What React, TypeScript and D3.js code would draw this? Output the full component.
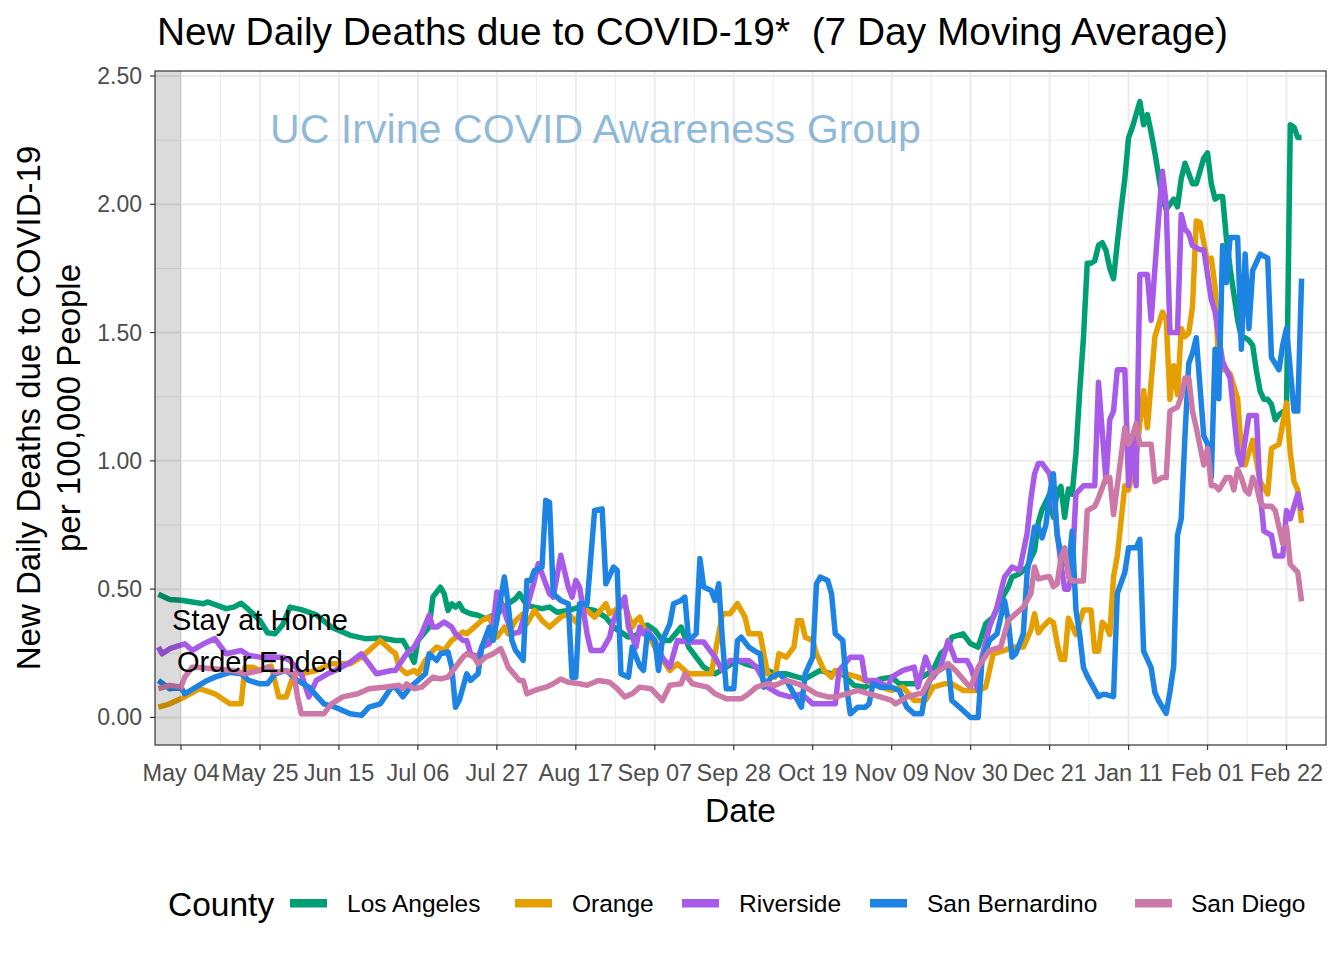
import React from "react";
import * as d3 from "d3";

// ---------- DATA (day offset from 2020-05-04, deaths per 100k, 7-day avg) ----------
const BASE_DATE = Date.UTC(2020, 4, 4);

const counties = ["Los Angeles", "Orange", "Riverside", "San Bernardino", "San Diego"];

const laData: [number, number][] = [[-6,0.48],[-3,0.46],[0,0.457],[3,0.45],[6,0.443],[7,0.45],[10,0.435],[12,0.424],[14,0.43],[16,0.445],[18,0.42],[21,0.378],[23,0.33],[25,0.326],[27,0.36],[29,0.43],[32,0.42],[36,0.40],[40,0.352],[45,0.32],[49,0.307],[53,0.31],[57,0.30],[59,0.30],[60,0.275],[62,0.215],[63,0.30],[66,0.352],[67,0.47],[69,0.508],[70,0.482],[71,0.417],[72,0.443],[73,0.43],[74,0.443],[75,0.417],[77,0.404],[79,0.398],[81,0.385],[84,0.404],[87,0.443],[89,0.463],[90,0.482],[92,0.437],[94,0.43],[96,0.424],[98,0.43],[100,0.41],[103,0.417],[106,0.43],[110,0.417],[113,0.39],[115,0.352],[119,0.313],[121,0.32],[124,0.36],[126,0.34],[128,0.30],[130,0.30],[133,0.352],[135,0.274],[137,0.235],[139,0.196],[142,0.17],[145,0.196],[148,0.222],[150,0.209],[153,0.196],[156,0.183],[158,0.17],[161,0.17],[164,0.157],[166,0.15],[170,0.183],[173,0.17],[175,0.183],[179,0.125],[182,0.118],[186,0.15],[189,0.157],[191,0.131],[195,0.131],[197,0.157],[200,0.183],[202,0.248],[204,0.274],[205,0.313],[208,0.326],[210,0.287],[212,0.274],[214,0.365],[216,0.391],[218,0.456],[220,0.508],[221,0.547],[223,0.56],[225,0.586],[226,0.62],[227,0.65],[228,0.76],[229,0.81],[230,0.84],[231,0.87],[232,0.78],[233,0.88],[234,0.90],[235,0.78],[236,0.89],[237,0.87],[238,1.03],[239,1.27],[240,1.48],[241,1.77],[242,1.77],[243,1.78],[244,1.84],[245,1.85],[246,1.82],[247,1.75],[248,1.71],[249,1.85],[250,1.98],[251,2.1],[252,2.26],[253,2.3],[254,2.35],[255,2.40],[256,2.31],[257,2.35],[258,2.28],[259,2.2],[260,2.11],[261,2.02],[262,1.98],[263,2.0],[264,2.02],[265,1.99],[266,2.1],[267,2.16],[268,2.12],[269,2.08],[270,2.08],[271,2.13],[272,2.18],[273,2.2],[274,2.08],[275,2.02],[276,2.03],[277,2.03],[278,1.87],[279,1.75],[280,1.65],[281,1.55],[282,1.48],[283,1.48],[284,1.47],[285,1.45],[286,1.35],[287,1.27],[288,1.24],[289,1.24],[290,1.22],[291,1.16],[292,1.18],[293,1.19],[294,1.2],[295,2.31],[296,2.3],[297,2.26],[298,2.26]];

const orangeData: [number, number][] = [[-6,0.04],[-3,0.053],[1,0.08],[5,0.112],[9,0.092],[13,0.053],[16,0.053],[17,0.196],[19,0.196],[21,0.183],[24,0.2],[26,0.08],[28,0.08],[30,0.17],[32,0.17],[36,0.183],[40,0.209],[45,0.209],[48,0.235],[53,0.30],[56,0.26],[57,0.25],[58,0.196],[59,0.183],[60,0.17],[62,0.183],[63,0.17],[65,0.222],[67,0.261],[68,0.274],[70,0.261],[72,0.30],[75,0.333],[76,0.326],[78,0.352],[80,0.378],[82,0.391],[83,0.352],[84,0.313],[86,0.352],[87,0.326],[89,0.378],[91,0.404],[92,0.365],[94,0.417],[96,0.378],[98,0.352],[99,0.365],[101,0.391],[103,0.404],[105,0.372],[106,0.404],[108,0.417],[110,0.391],[113,0.443],[114,0.404],[118,0.443],[120,0.352],[121,0.378],[122,0.391],[123,0.352],[125,0.30],[127,0.248],[130,0.183],[132,0.209],[134,0.183],[135,0.17],[139,0.17],[141,0.17],[142,0.248],[144,0.404],[146,0.404],[148,0.443],[150,0.391],[151,0.326],[154,0.326],[156,0.17],[158,0.157],[159,0.248],[161,0.235],[163,0.274],[164,0.378],[165,0.378],[166,0.313],[168,0.30],[169,0.248],[171,0.183],[173,0.157],[174,0.183],[177,0.17],[180,0.157],[182,0.144],[186,0.118],[189,0.105],[192,0.118],[195,0.066],[198,0.066],[200,0.118],[203,0.131],[205,0.131],[208,0.105],[212,0.105],[214,0.118],[216,0.248],[219,0.261],[221,0.274],[224,0.274],[226,0.339],[227,0.404],[228,0.33],[229,0.35],[230,0.365],[231,0.38],[232,0.37],[233,0.29],[234,0.226],[235,0.226],[236,0.387],[237,0.355],[238,0.323],[240,0.419],[242,0.419],[243,0.258],[244,0.258],[245,0.371],[246,0.355],[247,0.323],[248,0.548],[249,0.629],[251,0.903],[252,0.887],[254,1.016],[256,1.274],[257,1.129],[259,1.484],[261,1.58],[262,1.55],[263,1.24],[264,1.371],[265,1.258],[266,1.516],[267,1.484],[268,1.5],[269,1.6],[270,1.935],[271,1.93],[272,1.85],[273,1.774],[274,1.79],[275,1.677],[276,1.355],[278,1.355],[279,1.339],[281,1.242],[282,1.032],[283,0.984],[285,1.081],[287,0.919],[289,0.871],[290,1.048],[292,1.065],[294,1.226],[295,1.032],[296,0.919],[297,0.887],[298,0.758]];

const riversideData: [number, number][] = [[-6,0.274],[-5,0.248],[-3,0.268],[1,0.287],[3,0.261],[6,0.287],[9,0.307],[12,0.248],[16,0.261],[18,0.241],[21,0.235],[25,0.235],[27,0.235],[29,0.222],[32,0.17],[34,0.08],[36,0.144],[39,0.17],[41,0.183],[45,0.215],[48,0.248],[52,0.17],[56,0.183],[57,0.183],[60,0.248],[62,0.274],[64,0.326],[66,0.398],[67,0.352],[68,0.352],[70,0.372],[72,0.352],[73,0.326],[75,0.30],[76,0.30],[77,0.248],[79,0.235],[80,0.274],[82,0.287],[83,0.359],[84,0.489],[85,0.456],[88,0.326],[90,0.333],[92,0.43],[94,0.534],[95,0.599],[98,0.482],[99,0.469],[101,0.632],[103,0.508],[104,0.469],[105,0.534],[106,0.508],[108,0.326],[109,0.261],[112,0.261],[114,0.313],[115,0.378],[118,0.469],[119,0.352],[121,0.274],[122,0.352],[123,0.326],[124,0.339],[126,0.30],[128,0.235],[130,0.196],[132,0.30],[135,0.294],[137,0.294],[139,0.294],[140,0.274],[142,0.235],[144,0.183],[146,0.222],[149,0.222],[151,0.222],[153,0.196],[156,0.118],[159,0.092],[162,0.08],[165,0.092],[168,0.053],[172,0.053],[174,0.053],[175,0.183],[178,0.235],[181,0.235],[182,0.144],[185,0.144],[188,0.118],[189,0.157],[192,0.183],[195,0.196],[196,0.118],[198,0.235],[200,0.157],[202,0.196],[204,0.30],[206,0.222],[209,0.222],[210,0.196],[212,0.105],[213,0.235],[215,0.352],[217,0.43],[219,0.547],[221,0.586],[223,0.573],[225,0.716],[226,0.85],[227,0.95],[228,0.99],[229,0.99],[230,0.97],[231,0.95],[232,0.87],[233,0.72],[234,0.6],[235,0.5],[236,0.5],[237,0.58],[238,0.871],[240,0.903],[241,0.903],[243,0.903],[244,1.306],[246,0.919],[247,1.161],[248,1.194],[249,1.355],[251,1.355],[252,0.903],[253,1.097],[254,0.903],[255,1.726],[257,1.726],[258,1.548],[259,1.75],[260,1.95],[261,2.129],[262,2.0],[263,1.5],[264,1.5],[265,1.5],[266,1.96],[267,1.903],[268,1.887],[269,1.839],[271,1.823],[272,1.823],[274,1.629],[275,1.58],[277,1.387],[278,1.355],[279,1.323],[281,1.032],[282,0.984],[284,1.177],[286,1.177],[287,0.871],[288,0.726],[290,0.71],[291,0.629],[293,0.629],[294,0.806],[295,0.774],[297,0.871],[298,0.806]];

const sanBernardinoData: [number, number][] = [[-6,0.144],[-3,0.112],[0,0.118],[1,0.092],[4,0.118],[7,0.144],[9,0.157],[13,0.176],[16,0.17],[18,0.144],[21,0.131],[23,0.131],[25,0.17],[28,0.183],[31,0.144],[34,0.118],[38,0.053],[41,0.04],[45,0.014],[48,0.008],[50,0.04],[53,0.053],[56,0.118],[57,0.118],[59,0.08],[61,0.118],[63,0.144],[65,0.17],[66,0.248],[68,0.222],[69,0.248],[71,0.255],[72,0.196],[73,0.04],[74,0.066],[76,0.17],[77,0.144],[79,0.17],[80,0.274],[82,0.352],[83,0.30],[84,0.378],[86,0.547],[87,0.443],[88,0.30],[89,0.261],[91,0.222],[92,0.534],[93,0.534],[94,0.573],[96,0.586],[97,0.846],[98,0.839],[99,0.482],[101,0.456],[103,0.443],[104,0.157],[105,0.157],[106,0.443],[108,0.443],[110,0.807],[112,0.813],[113,0.521],[115,0.586],[116,0.573],[117,0.17],[119,0.157],[120,0.274],[122,0.2],[123,0.183],[124,0.326],[126,0.30],[127,0.183],[128,0.30],[130,0.365],[131,0.443],[133,0.456],[134,0.469],[135,0.30],[137,0.326],[138,0.619],[139,0.508],[141,0.495],[142,0.456],[143,0.521],[144,0.30],[145,0.112],[147,0.112],[148,0.30],[149,0.313],[151,0.274],[153,0.255],[154,0.248],[155,0.118],[157,0.157],[159,0.17],[161,0.144],[163,0.092],[165,0.04],[166,0.17],[168,0.235],[169,0.521],[170,0.547],[172,0.534],[173,0.482],[174,0.326],[176,0.30],[177,0.118],[178,0.014],[180,0.04],[182,0.04],[183,0.053],[184,0.131],[186,0.118],[189,0.118],[191,0.105],[193,0.04],[195,0.014],[197,0.014],[198,0.105],[200,0.17],[203,0.196],[204,0.209],[205,0.066],[208,0.027],[210,0.0],[212,0.0],[213,0.222],[215,0.30],[217,0.326],[219,0.456],[220,0.378],[221,0.235],[222,0.248],[224,0.326],[225,0.56],[227,0.742],[228,0.742],[229,0.70],[230,0.75],[231,0.87],[232,0.95],[233,0.71],[234,0.64],[236,0.58],[237,0.726],[238,0.419],[239,0.323],[240,0.194],[241,0.161],[244,0.081],[245,0.089],[246,0.089],[248,0.081],[249,0.484],[251,0.565],[252,0.661],[254,0.661],[255,0.694],[256,0.258],[258,0.194],[259,0.097],[260,0.065],[262,0.016],[263,0.1],[264,0.2],[265,0.71],[266,0.774],[267,1.1],[268,1.38],[269,1.42],[270,1.48],[272,1.097],[273,1.065],[274,0.935],[275,1.435],[276,1.242],[277,1.839],[278,1.694],[279,1.871],[281,1.871],[282,1.435],[283,1.806],[284,1.516],[285,1.742],[287,1.806],[289,1.79],[290,1.403],[292,1.355],[293,1.452],[294,1.516],[296,1.194],[297,1.194],[298,1.71]];

const sanDiegoData: [number, number][] = [[-6,0.112],[-3,0.125],[0,0.118],[1,0.157],[3,0.196],[4,0.196],[9,0.189],[14,0.183],[17,0.17],[21,0.183],[23,0.196],[25,0.176],[28,0.183],[30,0.17],[31,0.08],[32,0.014],[35,0.014],[38,0.014],[40,0.053],[43,0.08],[47,0.092],[50,0.112],[54,0.118],[58,0.125],[59,0.112],[60,0.131],[62,0.112],[64,0.118],[66,0.144],[67,0.157],[69,0.15],[71,0.157],[73,0.196],[75,0.235],[76,0.248],[78,0.235],[79,0.209],[81,0.235],[83,0.248],[85,0.268],[86,0.235],[87,0.196],[90,0.144],[91,0.144],[92,0.092],[94,0.105],[97,0.118],[99,0.131],[101,0.15],[103,0.137],[106,0.131],[108,0.125],[111,0.144],[114,0.137],[116,0.112],[118,0.08],[120,0.092],[122,0.118],[125,0.112],[128,0.066],[130,0.125],[133,0.131],[134,0.17],[136,0.131],[140,0.118],[142,0.092],[145,0.073],[149,0.073],[151,0.092],[153,0.118],[156,0.131],[158,0.125],[161,0.144],[164,0.131],[166,0.118],[169,0.092],[172,0.08],[174,0.08],[177,0.092],[180,0.105],[183,0.092],[186,0.08],[189,0.066],[190,0.053],[193,0.079],[196,0.092],[197,0.092],[200,0.17],[203,0.196],[204,0.209],[206,0.183],[209,0.131],[210,0.118],[212,0.196],[215,0.261],[218,0.274],[220,0.378],[224,0.43],[226,0.482],[227,0.586],[228,0.54],[230,0.547],[231,0.548],[232,0.51],[233,0.52],[234,0.62],[235,0.661],[236,0.548],[237,0.532],[240,0.532],[241,0.806],[243,0.823],[244,0.855],[246,0.935],[247,0.935],[248,0.79],[251,1.129],[252,1.065],[253,1.097],[254,1.145],[255,1.065],[256,1.065],[258,1.065],[259,0.919],[261,0.935],[262,0.935],[263,1.194],[265,1.21],[266,1.25],[267,1.323],[268,1.323],[269,1.194],[270,1.129],[272,0.984],[273,1.048],[274,0.903],[275,0.903],[276,0.887],[278,0.935],[279,0.935],[280,0.887],[281,0.968],[282,0.935],[283,0.887],[284,0.871],[285,0.935],[286,0.903],[287,0.839],[288,0.823],[290,0.823],[291,0.806],[292,0.742],[293,0.677],[294,0.742],[295,0.597],[297,0.565],[298,0.452]];

const seriesData = [laData, orangeData, riversideData, sanBernardinoData, sanDiegoData];
const seriesColors = ["#009E73", "#E69F00", "#A75BE8", "#1E84E4", "#CC79A7"];

const xTickLabels = ["May 04", "May 25", "Jun 15", "Jul 06", "Jul 27", "Aug 17", "Sep 07", "Sep 28", "Oct 19", "Nov 09", "Nov 30", "Dec 21", "Jan 11", "Feb 01", "Feb 22"];
const xTickDays = [0, 21, 42, 63, 84, 105, 126, 147, 168, 189, 210, 231, 252, 273, 294];
const yTicks = [0, 0.5, 1.0, 1.5, 2.0, 2.5];
const yMinor = [0.25, 0.75, 1.25, 1.75, 2.25];

const stayHomeEndDay = 0; // shaded period ends
const annotationDay = 21;
const annotationValue = 0.34;

// ---------- LAYOUT ----------
const W = 1344, H = 960;
const PL = 155, PR = 1326, PT = 71, PB = 745;
const FONT = "'Liberation Sans', Arial, Helvetica, sans-serif";

const dayToDate = (d: number) => new Date(BASE_DATE + d * 86400000);

export default function App() {
  const x = d3.scaleUtc().domain([dayToDate(-6.915), dayToDate(304.5)]).range([PL, PR]);
  const y = d3.scaleLinear().domain([-0.1075, 2.5195]).range([PB, PT]);

  const line = d3
    .line<[number, number]>()
    .x((d) => x(dayToDate(d[0])))
    .y((d) => y(d[1]));

  const minorXDays = xTickDays.map((d) => d + 10.5).concat([xTickDays[0] - 10.5]);

  const legendItems = [
    { keyX: 290, textX: 347 },
    { keyX: 515, textX: 572 },
    { keyX: 682, textX: 739 },
    { keyX: 870, textX: 927 },
    { keyX: 1135, textX: 1191 },
  ];

  return (
    <svg width={W} height={H} style={{ position: "absolute", left: 0, top: 0, background: "#fff" }} fontFamily={FONT}>
      <rect x={0} y={0} width={W} height={H} fill="#fff" />
      <defs>
        <clipPath id="panel">
          <rect x={PL} y={PT} width={PR - PL} height={PB - PT} />
        </clipPath>
      </defs>
      <rect x={PL} y={PT} width={PR - PL} height={PB - PT} fill="#fff" />
      <g clipPath="url(#panel)" stroke="#ebebeb" strokeWidth={1}>
        {yMinor.map((v) => (
          <line key={"ym" + v} x1={PL} x2={PR} y1={y(v)} y2={y(v)} />
        ))}
        {minorXDays.map((d) => (
          <line key={"xm" + d} x1={x(dayToDate(d))} x2={x(dayToDate(d))} y1={PT} y2={PB} />
        ))}
      </g>
      <g clipPath="url(#panel)" stroke="#ebebeb" strokeWidth={2}>
        {yTicks.map((v) => (
          <line key={"yM" + v} x1={PL} x2={PR} y1={y(v)} y2={y(v)} />
        ))}
        {xTickDays.map((d) => (
          <line key={"xM" + d} x1={x(dayToDate(d))} x2={x(dayToDate(d))} y1={PT} y2={PB} />
        ))}
      </g>
      <text x={270} y={143} fontSize={41} fill="#1F77B4" fillOpacity={0.5} textLength={651} lengthAdjust="spacingAndGlyphs">
        UC Irvine COVID Awareness Group
      </text>
      <g clipPath="url(#panel)" fill="none" strokeWidth={5.5} strokeLinejoin="round" strokeLinecap="butt">
        {seriesData.map((s, i) => (
          <path key={counties[i]} d={line(s) || ""} stroke={seriesColors[i]} />
        ))}
      </g>
      <rect x={PL} y={PT} width={x(dayToDate(stayHomeEndDay)) - PL} height={PB - PT} fill="#000" fillOpacity={0.14} />
      <text x={x(dayToDate(annotationDay))} y={y(annotationValue)} fontSize={29} textAnchor="middle" fill="#000">
        <tspan x={x(dayToDate(annotationDay))} dy={0}>Stay at Home</tspan>
        <tspan x={x(dayToDate(annotationDay))} dy={42}>Order Ended</tspan>
      </text>
      <rect x={PL} y={PT} width={PR - PL} height={PB - PT} fill="none" stroke="#333" strokeWidth={1.2} />
      <g>
        {yTicks.map((v) => (
          <g key={"yt" + v}>
            <line x1={PL - 5} x2={PL} y1={y(v)} y2={y(v)} stroke="#333" strokeWidth={1.2} />
            <text x={PL - 13} y={y(v) + 8} fontSize={23} textAnchor="end" fill="#4d4d4d">
              {d3.format(".2f")(v)}
            </text>
          </g>
        ))}
      </g>
      <g>
        {xTickDays.map((d, i) => (
          <g key={"xt" + d}>
            <line x1={x(dayToDate(d))} x2={x(dayToDate(d))} y1={PB} y2={PB + 5} stroke="#333" strokeWidth={1.2} />
            <text x={x(dayToDate(d))} y={781} fontSize={23.5} textAnchor="middle" fill="#4d4d4d">
              {xTickLabels[i]}
            </text>
          </g>
        ))}
      </g>
      <text x={(PL + PR) / 2} y={822} fontSize={33.5} textAnchor="middle" fill="#000">Date</text>
      <g transform={`translate(40, ${(PT + PB) / 2}) rotate(-90)`}>
        <text x={0} y={0} fontSize={33} textAnchor="middle" fill="#000">New Daily Deaths due to COVID-19</text>
      </g>
      <g transform={`translate(80, ${(PT + PB) / 2}) rotate(-90)`}>
        <text x={0} y={0} fontSize={33} textAnchor="middle" fill="#000">per 100,000 People</text>
      </g>
      <text x={157} y={45} fontSize={39} fill="#000" textLength={1071} lengthAdjust="spacingAndGlyphs" style={{ whiteSpace: "pre" }}>
        {"New Daily Deaths due to COVID-19*  (7 Day Moving Average)"}
      </text>
      <text x={168} y={916} fontSize={33.5} fill="#000">County</text>
      {counties.map((c, i) => (
        <g key={"lg" + c}>
          <rect x={legendItems[i].keyX} y={899} width={37} height={8.5} fill={seriesColors[i]} />
          <text x={legendItems[i].textX} y={912} fontSize={24.5} fill="#000">{c}</text>
        </g>
      ))}
    </svg>
  );
}
